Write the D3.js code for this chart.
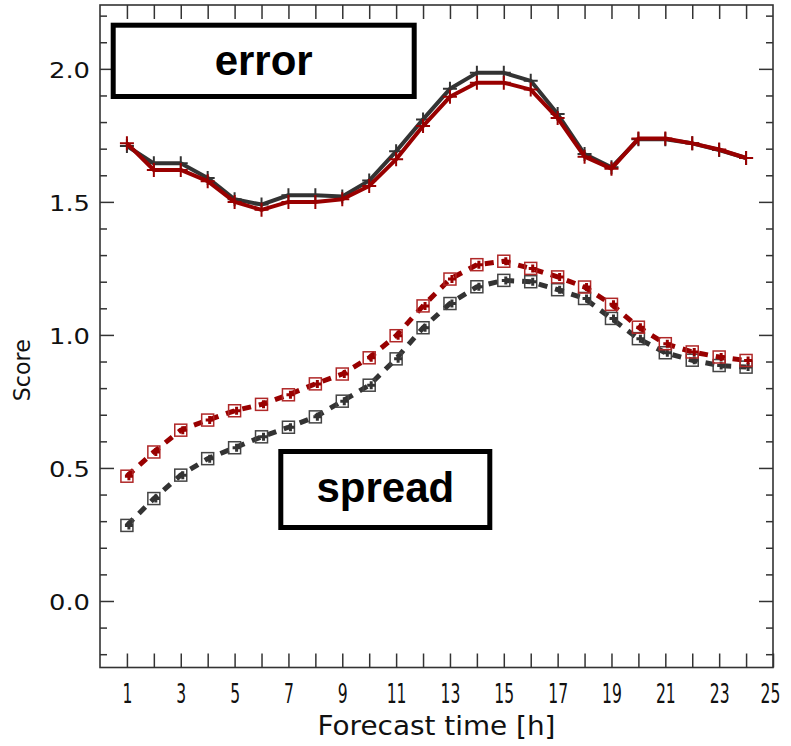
<!DOCTYPE html>
<html>
<head>
<meta charset="utf-8">
<script src="https://cdn.jsdelivr.net/npm/d3@7"></script>
<style>
  html, body { margin: 0; padding: 0; background: #fff; }
  svg { display: block; }
</style>
</head>
<body>
<div id="chart"></div>
<script>
// Forecast hours and scores
const hours = [1, 2, 3, 4, 5, 6, 7, 8, 9, 10, 11, 12, 13, 14, 15, 16, 17, 18, 19, 20, 21, 22, 23, 24];
const errorBlack = [1.71, 1.645, 1.645, 1.59, 1.51, 1.49, 1.525, 1.525, 1.52, 1.58, 1.69, 1.81, 1.925, 1.985, 1.985, 1.955, 1.83, 1.68, 1.63, 1.735, 1.735, 1.72, 1.695, 1.665];
const errorRed = [1.72, 1.62, 1.62, 1.578, 1.50, 1.47, 1.50, 1.50, 1.51, 1.56, 1.66, 1.785, 1.895, 1.948, 1.948, 1.922, 1.815, 1.67, 1.625, 1.738, 1.738, 1.72, 1.697, 1.665];
const spreadBlack = [0.284, 0.385, 0.473, 0.535, 0.576, 0.617, 0.653, 0.692, 0.751, 0.811, 0.910, 1.027, 1.118, 1.181, 1.205, 1.200, 1.170, 1.137, 1.062, 0.986, 0.933, 0.905, 0.885, 0.879];
const spreadRed = [0.469, 0.560, 0.642, 0.680, 0.715, 0.739, 0.775, 0.816, 0.853, 0.914, 0.997, 1.109, 1.210, 1.264, 1.277, 1.250, 1.218, 1.180, 1.115, 1.029, 0.967, 0.936, 0.917, 0.904];

const xTicks = d3.range(1, 26);
const yTicks = d3.range(-2, 23).map(i => i / 10);
const xLabel = 'Forecast time [h]';
const yLabel = 'Score';
const boxLabels = ['error', 'spread'];

const W = 791, H = 746;
const frame = { left: 100, right: 773, top: 5, bottom: 667.5 };
const axisColor = '#333';
const darkColor = '#333333';
const redColor = '#990000';

const svg = d3.select('#chart').append('svg')
    .attr('width', W).attr('height', H)
    .attr('viewBox', `0 0 ${W} ${H}`);

const x = d3.scaleLinear().domain([0, 25]).range([frame.left, frame.right]);
const y = d3.scaleLinear().domain([-0.25, 2.24]).range([frame.bottom, frame.top]);

// Frame
svg.append('rect')
    .attr('x', frame.left).attr('y', frame.top)
    .attr('width', frame.right - frame.left).attr('height', frame.bottom - frame.top)
    .attr('fill', 'none').attr('stroke', axisColor).attr('stroke-width', 1.6);

// Bottom / top ticks (pointing inward)
const xb = svg.append('g')
    .attr('transform', `translate(0,${frame.bottom})`)
    .call(d3.axisBottom(x).tickValues(xTicks).tickSize(-14).tickSizeOuter(0)
        .tickFormat(d => d % 2 === 1 ? d : ''));
xb.select('.domain').remove();
xb.selectAll('line').attr('stroke', axisColor).attr('stroke-width', 1.5);
// narrow, tall digits like the plotting font of the original
xb.selectAll('text')
    .attr('y', null).attr('dy', null)
    .attr('transform', d => `translate(${d === 25 ? -3 : 0},35) scale(0.6,1)`)
    .attr('fill', '#111')
    .attr('font-family', 'DejaVu Sans, sans-serif')
    .attr('font-size', 26);

const xt = svg.append('g')
    .attr('transform', `translate(0,${frame.top})`)
    .call(d3.axisTop(x).tickValues(d3.range(1, 25)).tickSize(-14).tickSizeOuter(0).tickFormat(''));
xt.select('.domain').remove();
xt.selectAll('line').attr('stroke', axisColor).attr('stroke-width', 1.5);

// Left / right ticks: major every 0.5, minor every 0.1
const isMajor = d => Math.abs(Math.round(d * 10)) % 5 === 0;
const yl = svg.append('g')
    .attr('transform', `translate(${frame.left},0)`)
    .call(d3.axisLeft(y).tickValues(yTicks).tickSize(-7).tickSizeOuter(0)
        .tickFormat(d => isMajor(d) ? d3.format('.1f')(d) : ''));
yl.select('.domain').remove();
yl.selectAll('line')
    .attr('x2', d => isMajor(d) ? 14 : 7)
    .attr('stroke', axisColor).attr('stroke-width', 1.5);
yl.selectAll('text')
    .attr('x', -10).attr('dy', '0.38em')
    .attr('text-anchor', 'end')
    .attr('fill', '#111')
    .attr('font-family', 'DejaVu Sans, sans-serif')
    .attr('font-size', 22)
    .attr('lengthAdjust', 'spacingAndGlyphs')
    .attr('textLength', d => isMajor(d) ? 41 : null);

const yr = svg.append('g')
    .attr('transform', `translate(${frame.right},0)`)
    .call(d3.axisRight(y).tickValues(yTicks).tickSize(-7).tickSizeOuter(0).tickFormat(''));
yr.select('.domain').remove();
yr.selectAll('line')
    .attr('x2', d => isMajor(d) ? -14 : -7)
    .attr('stroke', axisColor).attr('stroke-width', 1.5);

// Axis titles
svg.append('text')
    .attr('x', (frame.left + frame.right) / 2).attr('y', 735)
    .attr('text-anchor', 'middle')
    .attr('font-family', 'DejaVu Sans, sans-serif')
    .attr('font-size', 27).attr('fill', '#111')
    .attr('lengthAdjust', 'spacingAndGlyphs').attr('textLength', 238)
    .text(xLabel);

svg.append('text')
    .attr('transform', `translate(30,${(frame.top + frame.bottom) / 2 + 34}) rotate(-90)`)
    .attr('text-anchor', 'middle')
    .attr('font-family', 'DejaVu Sans, sans-serif')
    .attr('font-size', 23).attr('fill', '#111')
    .attr('lengthAdjust', 'spacingAndGlyphs').attr('textLength', 62)
    .text(yLabel);

// Plot area
const plot = svg.append('g');
const line = d3.line().x((d, i) => x(hours[i])).y(d => y(d));

function plusPath(cx, cy, r) {
    return `M${cx - r},${cy}H${cx + r}M${cx},${cy - r}V${cy + r}`;
}

// Spread: dashed lines with open squares and small plus marks
function drawSpread(values, lineColor, boxColor) {
    plot.append('path')
        .datum(values)
        .attr('d', line)
        .attr('fill', 'none')
        .attr('stroke', lineColor)
        .attr('stroke-width', 5)
        .attr('stroke-dasharray', '9,8');
    plot.append('g').selectAll('rect')
        .data(values)
        .join('rect')
        .attr('x', (d, i) => x(hours[i]) - 6)
        .attr('y', d => y(d) - 6)
        .attr('width', 12).attr('height', 12)
        .attr('fill', 'none')
        .attr('stroke', boxColor)
        .attr('stroke-width', 1.5);
    plot.append('g').selectAll('path')
        .data(values)
        .join('path')
        .attr('d', (d, i) => plusPath(x(hours[i]) + 2, y(d), 4))
        .attr('stroke', lineColor)
        .attr('stroke-width', 3);
}

// Error: solid lines with plus markers
function drawError(values, color) {
    plot.append('path')
        .datum(values)
        .attr('d', line)
        .attr('fill', 'none')
        .attr('stroke', color)
        .attr('stroke-width', 4)
        .attr('stroke-linejoin', 'round');
    plot.append('g').selectAll('path')
        .data(values)
        .join('path')
        .attr('d', (d, i) => plusPath(x(hours[i]), y(d), 7))
        .attr('stroke', color)
        .attr('stroke-width', 2);
}

drawSpread(spreadBlack, '#333333', '#444444');
drawSpread(spreadRed, redColor, '#b02828');
drawError(errorBlack, darkColor);
drawError(errorRed, redColor);

// Label boxes
const boxes = [
    { label: boxLabels[0], x0: 113.2, y0: 25.2, w: 301, h: 71.3, dy: 14 },
    { label: boxLabels[1], x0: 280.8, y0: 451.5, w: 209, h: 76, dy: 12 }
];
boxes.forEach(b => {
    svg.append('rect')
        .attr('x', b.x0).attr('y', b.y0)
        .attr('width', b.w).attr('height', b.h)
        .attr('fill', '#fff')
        .attr('stroke', '#000').attr('stroke-width', 5);
    svg.append('text')
        .attr('x', b.x0 + b.w / 2).attr('y', b.y0 + b.h / 2 + b.dy)
        .attr('text-anchor', 'middle')
        .attr('font-family', 'Liberation Sans, Arial, sans-serif')
        .attr('font-weight', 'bold')
        .attr('font-size', 42)
        .attr('fill', '#000')
        .text(b.label);
});
</script>
</body>
</html>
